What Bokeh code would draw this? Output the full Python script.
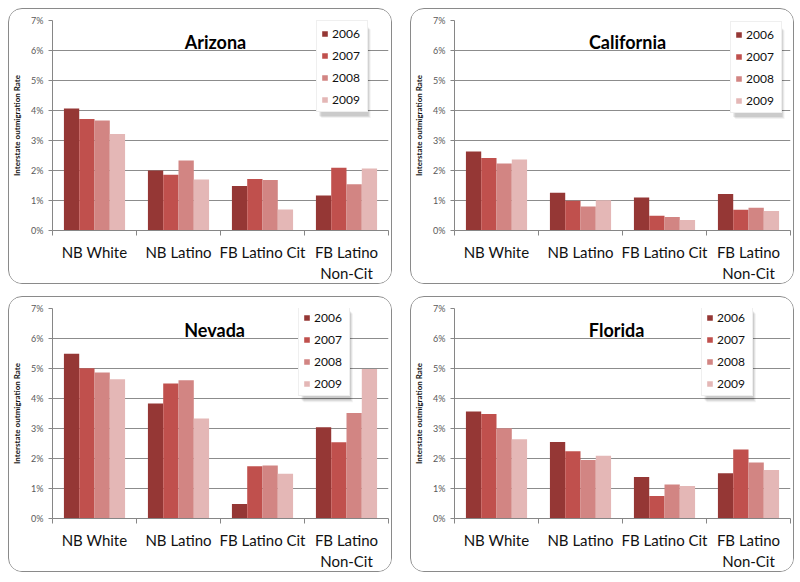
import numpy as np
from bokeh.plotting import figure
from bokeh.models import (Range1d, FixedTicker, PrintfTickFormatter, Legend,
                          LegendItem, Label, BoxAnnotation)
from bokeh.layouts import column, row
from bokeh.embed import file_html
from bokeh.resources import INLINE

# ---------------- data (percent) ----------------
categories = ["NB White", "NB Latino", "FB Latino Cit", "FB Latino\nNon-Cit"]
years = ["2006", "2007", "2008", "2009"]
y_ticks = [0, 1, 2, 3, 4, 5, 6, 7]

# rows = years (2006..2009), columns = categories
arizona = [
    [4.07, 2.00, 1.48, 1.17],
    [3.72, 1.86, 1.72, 2.09],
    [3.67, 2.33, 1.68, 1.54],
    [3.22, 1.70, 0.70, 2.07],
]
california = [
    [2.63, 1.26, 1.10, 1.22],
    [2.42, 0.99, 0.49, 0.69],
    [2.23, 0.80, 0.45, 0.76],
    [2.37, 1.01, 0.35, 0.65],
]
nevada = [
    [5.49, 3.83, 0.48, 3.04],
    [5.01, 4.50, 1.74, 2.54],
    [4.87, 4.61, 1.77, 3.52],
    [4.64, 3.33, 1.49, 4.98],
]
florida = [
    [3.57, 2.55, 1.38, 1.51],
    [3.48, 2.24, 0.75, 2.30],
    [3.01, 1.95, 1.13, 1.87],
    [2.64, 2.09, 1.08, 1.62],
]

# ---------------- styles ----------------
colors = ["#953735", "#C0504D", "#D28583", "#E4B7B6"]
FONT = "Lato"
W, H = 384, 276
ML, MR, MT, MB = 39, 5, 11, 52
FW, FH = W - ML - MR, H - MT - MB   # frame size in px
BAR_W = 0.182
PAD, GLYPH, STANDOFF, LABEL_W, LABEL_H, SPACING = 4, 7, 4, 31, 16, 6
LEG_W = 2 * PAD + GLYPH + STANDOFF + LABEL_W
LEG_H = 2 * PAD + 4 * LABEL_H + 3 * SPACING
LEG_DX = 4   # observed horizontal offset of the drawn legend box


def make_panel(name, data, title_x, legend_loc):
    nx, ymax = len(categories), y_ticks[-1]
    p = figure(width=W, height=H, x_range=Range1d(0, nx),
               y_range=Range1d(0, ymax), output_backend="svg",
               toolbar_location=None, min_border_left=ML, min_border_right=MR,
               min_border_top=MT, min_border_bottom=MB)
    p.outline_line_color = None
    p.background_fill_color = "white"
    p.border_fill_color = "white"
    p.styles = {"border": "1px solid #8a8a8a", "border-radius": "14px",
                "overflow": "hidden"}

    centers = np.arange(nx) + 0.5
    items = []
    for j, (yr, vals) in enumerate(zip(years, data)):
        xs = centers + (j - 1.5) * BAR_W
        r = p.vbar(x=xs, top=vals, bottom=0, width=BAR_W,
                   fill_color=colors[j], line_color=None)
        items.append(LegendItem(label=yr, renderers=[r]))

    # x axis
    xa = p.xaxis[0]
    xa.ticker = FixedTicker(ticks=list(centers),
                            minor_ticks=list(range(nx + 1)))
    xa.major_label_overrides = {float(c): lab for c, lab in zip(centers, categories)}
    xa.major_tick_line_color = None
    xa.minor_tick_line_color = "#868686"
    xa.minor_tick_out = 5
    xa.minor_tick_in = 0
    xa.axis_line_color = "#868686"
    xa.major_label_text_font = FONT
    xa.major_label_text_font_size = "15px"
    xa.major_label_text_color = "#111111"
    xa.major_label_standoff = 6

    # y axis
    ya = p.yaxis[0]
    ya.ticker = FixedTicker(ticks=y_ticks, minor_ticks=[])
    ya.formatter = PrintfTickFormatter(format="%d%%")
    ya.major_tick_out = 4
    ya.major_tick_in = 0
    ya.major_tick_line_color = "#868686"
    ya.minor_tick_line_color = None
    ya.axis_line_color = "#868686"
    ya.major_label_text_font = FONT
    ya.major_label_text_font_size = "9px"
    ya.major_label_text_color = "#595959"
    ya.major_label_standoff = 5
    ya.axis_label = "Interstate outmigration Rate"
    ya.axis_label_text_font = FONT
    ya.axis_label_text_font_size = "8px"
    ya.axis_label_text_font_style = "bold"
    ya.axis_label_text_color = "#111111"
    ya.axis_label_standoff = 6

    p.xgrid.visible = False
    p.ygrid.ticker = FixedTicker(ticks=y_ticks[1:])
    p.ygrid.grid_line_color = "#8c8c8c"

    p.add_layout(Label(x=title_x, y=6.3, text=name, text_align="center",
                       text_baseline="middle", text_font=FONT,
                       text_font_size="18px", text_font_style="bold",
                       text_color="#000000"))

    # soft drop shadow behind the legend (offset in px converted to data units)
    lx, ly = legend_loc
    sx, sy = nx / FW, ymax / FH
    for off, alpha in ((4, 0.05), (3, 0.07), (2, 0.09)):
        p.add_layout(BoxAnnotation(
            left=(lx + LEG_DX + off) * sx, right=(lx + LEG_DX + LEG_W + off) * sx,
            bottom=(ly - off) * sy, top=(ly + LEG_H - off) * sy,
            fill_color="#000000", fill_alpha=alpha, line_color=None,
            level="annotation"))

    legend = Legend(items=items, location=legend_loc,
                    background_fill_color="white", background_fill_alpha=1,
                    border_line_color="#e0e0e0", label_text_font=FONT,
                    label_text_font_size="12px", label_text_color="#111111",
                    glyph_width=GLYPH, glyph_height=GLYPH,
                    label_standoff=STANDOFF, label_width=LABEL_W,
                    spacing=SPACING, padding=PAD, margin=0,
                    label_height=LABEL_H)
    p.add_layout(legend)
    return p


pA = make_panel("Arizona", arizona, 1.94, (264, 118))
pC = make_panel("California", california, 2.06, (276, 117))
pN = make_panel("Nevada", nevada, 1.93, (246, 122))
pF = make_panel("Florida", florida, 1.93, (247, 122))

layout = column(row(pA, pC, spacing=18), row(pN, pF, spacing=18),
                spacing=12)
layout.margin = (8, 0, 0, 8)

open("out.html", "w").write(file_html(layout, INLINE))
